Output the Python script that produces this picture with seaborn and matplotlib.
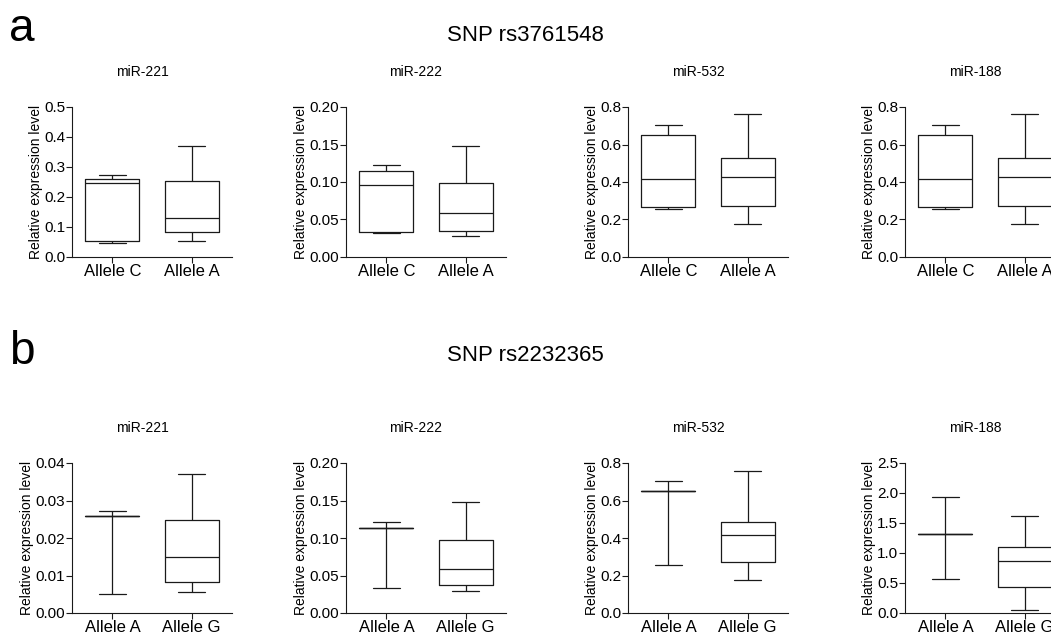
import matplotlib
matplotlib.use('Agg')
import matplotlib.pyplot as plt
import pandas as pd
import seaborn as sns

sns.set_style("ticks")
plt.rcParams['font.family'] = ['Liberation Sans', 'DejaVu Sans']
plt.rcParams['text.color'] = 'black'
plt.rcParams['axes.labelcolor'] = 'black'

# five-number summaries: [min, Q1, median, Q3, max]
# SNP rs3761548 (alleles C / A)
rs376_labels = ["Allele C", "Allele A"]
rs376_mir221_c = [0.048, 0.053, 0.245, 0.260, 0.272]
rs376_mir221_a = [0.053, 0.083, 0.130, 0.253, 0.370]
rs376_mir222_c = [0.032, 0.033, 0.096, 0.115, 0.122]
rs376_mir222_a = [0.028, 0.035, 0.059, 0.099, 0.148]
rs376_mir532_c = [0.255, 0.267, 0.418, 0.650, 0.703]
rs376_mir532_a = [0.178, 0.270, 0.428, 0.530, 0.760]
rs376_mir188_c = [0.255, 0.267, 0.418, 0.650, 0.703]
rs376_mir188_a = [0.178, 0.270, 0.428, 0.530, 0.760]

# SNP rs2232365 (alleles A / G)
rs223_labels = ["Allele A", "Allele G"]
rs223_mir221_a = [0.0050, 0.0260, 0.0260, 0.0260, 0.0272]
rs223_mir221_g = [0.0055, 0.0083, 0.0150, 0.0247, 0.0370]
rs223_mir222_a = [0.033, 0.114, 0.114, 0.114, 0.122]
rs223_mir222_g = [0.029, 0.037, 0.059, 0.098, 0.148]
rs223_mir532_a = [0.255, 0.650, 0.650, 0.650, 0.703]
rs223_mir532_g = [0.178, 0.270, 0.418, 0.487, 0.760]
rs223_mir188_a = [0.565, 1.320, 1.320, 1.320, 1.930]
rs223_mir188_g = [0.050, 0.430, 0.860, 1.100, 1.620]

mirnas = ["miR-221", "miR-222", "miR-532", "miR-188"]

ticks_221_top = ["0.0", "0.1", "0.2", "0.3", "0.4", "0.5"]
ticks_222 = ["0.00", "0.05", "0.10", "0.15", "0.20"]
ticks_532 = ["0.0", "0.2", "0.4", "0.6", "0.8"]
ticks_221_bot = ["0.00", "0.01", "0.02", "0.03", "0.04"]
ticks_188_bot = ["0.0", "0.5", "1.0", "1.5", "2.0", "2.5"]

rows = [
    (rs376_labels, [(rs376_mir221_c, rs376_mir221_a, ticks_221_top),
                    (rs376_mir222_c, rs376_mir222_a, ticks_222),
                    (rs376_mir532_c, rs376_mir532_a, ticks_532),
                    (rs376_mir188_c, rs376_mir188_a, ticks_532)]),
    (rs223_labels, [(rs223_mir221_a, rs223_mir221_g, ticks_221_bot),
                    (rs223_mir222_a, rs223_mir222_g, ticks_222),
                    (rs223_mir532_a, rs223_mir532_g, ticks_532),
                    (rs223_mir188_a, rs223_mir188_g, ticks_188_bot)]),
]

W, H = 1051, 632
fig = plt.figure(figsize=(W / 100, H / 100), dpi=100)

col_left = [72, 346, 628, 905]
row_top = [107, 463]
ax_w, ax_h = 160, 150
line_col = "#1a1a1a"

for r, (labels, panels) in enumerate(rows):
    for c, (g1, g2, yticks) in enumerate(panels):
        left = col_left[c]
        top = row_top[r]
        ax = fig.add_axes([left / W, 1 - (top + ax_h) / H, ax_w / W, ax_h / H])
        df = pd.DataFrame({
            "allele": [labels[0]] * len(g1) + [labels[1]] * len(g2),
            "value": g1 + g2,
        })
        sns.boxplot(data=df, x="allele", y="value", order=labels, ax=ax,
                    whis=(0, 100), fill=False, color=line_col, linewidth=0.9,
                    width=0.68, showfliers=False)
        yvals = [float(t) for t in yticks]
        ax.set_ylim(0, yvals[-1])
        ax.set_yticks(yvals)
        ax.set_yticklabels(yticks, fontsize=11)
        ax.set_xlim(-0.51, 1.51)
        ax.tick_params(axis='x', labelsize=12, length=4, width=0.8, colors=line_col, pad=1)
        ax.tick_params(axis='y', length=4, width=0.8, colors=line_col, pad=1)
        for lab in ax.get_xticklabels() + ax.get_yticklabels():
            lab.set_color("black")
        ax.set_xlabel("")
        ax.set_ylabel("Relative expression level", fontsize=10, labelpad=1)
        ax.set_title(mirnas[c], fontsize=10, x=0.5 - 10 / ax_w, pad=22)
        sns.despine(ax=ax)
        for sp in ax.spines.values():
            sp.set_linewidth(0.8)
            sp.set_color(line_col)

fig.text(22 / W, 1 - 41 / H, "a", fontsize=33, ha="center", va="baseline")
fig.text(22 / W, 1 - 364 / H, "b", fontsize=33, ha="center", va="baseline")
fig.text(525 / W, 1 - 41 / H, "SNP rs3761548", fontsize=16, ha="center", va="baseline")
fig.text(525 / W, 1 - 361 / H, "SNP rs2232365", fontsize=16, ha="center", va="baseline")

fig.savefig("out.png", dpi=100)
plt.close(fig)
